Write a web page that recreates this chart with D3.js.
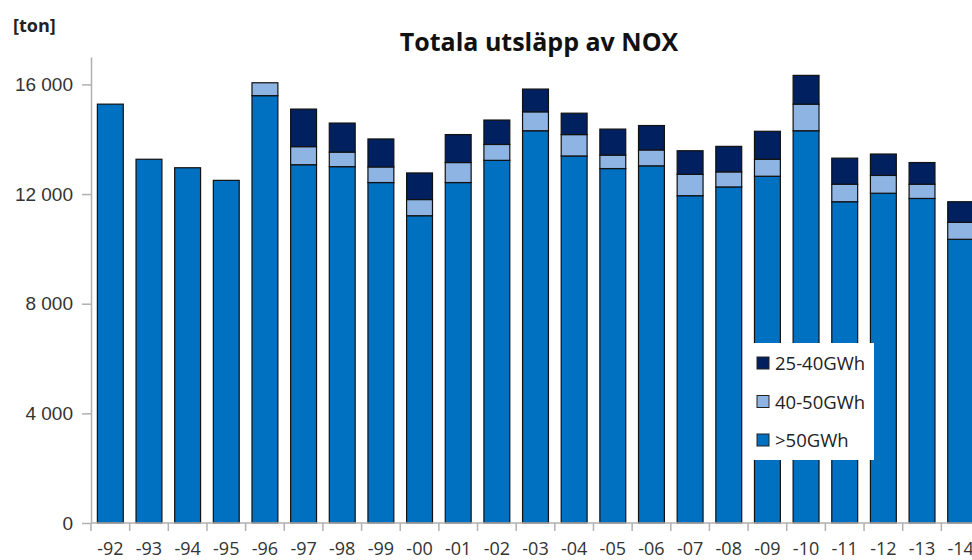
<!DOCTYPE html>
<html>
<head>
<meta charset="utf-8">
<script src="https://cdn.jsdelivr.net/npm/d3@7"></script>
<style>
  body { margin: 0; background: #fff; }
  svg { display: block; font-family: "Open Sans", sans-serif; }
  .axis text { fill: #333; font-size: 19px; }
</style>
</head>
<body>
<div id="chart"></div>
<script>
// years shown as short labels
const years = ['-92','-93','-94','-95','-96','-97','-98','-99','-00','-01','-02','-03',
  '-04','-05','-06','-07','-08','-09','-10','-11','-12','-13','-14'];

// tons per plant size class
const over50 = [15280, 13270, 12960, 12500, 15590, 13070, 13000, 12420, 11210, 12420, 13230, 14310,
  13390, 12930, 13030, 11940, 12260, 12650, 14310, 11720, 12030, 11840, 10350];
const from40to50 = [0, 0, 0, 0, 470, 660, 530, 570, 590, 730, 580, 690,
  780, 490, 580, 780, 550, 620, 970, 640, 650, 520, 620];
const from25to40 = [0, 0, 0, 0, 0, 1370, 1060, 1020, 970, 1020, 890, 830,
  780, 950, 890, 860, 930, 1020, 1050, 950, 780, 790, 750];

const seriesKeys = ['>50GWh', '40-50GWh', '25-40GWh'];
const seriesColors = ['#0070C0', '#8DB4E2', '#002060'];
const yTicks = [0, 4000, 8000, 12000, 16000];

const width = 972, height = 560;
const margin = {top: 57, left: 91, bottom: 37};
const plotRight = 980; // the original chart is cut at the right edge

const rows = years.map((y, i) => ({
  year: y,
  '>50GWh': over50[i],
  '40-50GWh': from40to50[i],
  '25-40GWh': from25to40[i]
}));

const stack = d3.stack().keys(seriesKeys)(rows);

const x = d3.scaleBand()
    .domain(years)
    .range([margin.left, plotRight])
    .paddingInner(0.33)
    .paddingOuter(0.165);

const y = d3.scaleLinear()
    .domain([0, 17000])
    .range([height - margin.bottom, margin.top]);

const svg = d3.select('#chart').append('svg')
    .attr('width', width)
    .attr('height', height);

// bars
svg.append('g')
  .selectAll('g')
  .data(stack)
  .join('g')
    .attr('fill', (d, i) => seriesColors[i])
  .selectAll('rect')
  .data(d => d.filter(s => s[1] - s[0] > 0))
  .join('rect')
    .attr('x', d => x(d.data.year))
    .attr('y', d => y(d[1]))
    .attr('width', x.bandwidth())
    .attr('height', d => y(d[0]) - y(d[1]))
    .attr('stroke', '#111')
    .attr('stroke-width', 1.2);

// y axis
const yAxisG = svg.append('g')
    .attr('class', 'axis')
    .attr('transform', `translate(${margin.left},0)`)
    .call(d3.axisLeft(y)
      .tickValues(yTicks)
      .tickSize(9)
      .tickPadding(9)
      .tickSizeOuter(0)
      .tickFormat(d => d3.format(',')(d).replace(/,/g, ' ')));
yAxisG.select('.domain').attr('stroke', '#b0b0b0').attr('stroke-width', 1.5);
yAxisG.selectAll('.tick line').attr('stroke', '#b0b0b0').attr('stroke-width', 1.5);

// x axis: ticks sit between the bars
const xAxisG = svg.append('g')
    .attr('class', 'axis')
    .attr('transform', `translate(0,${y(0)})`);
xAxisG.append('line')
    .attr('x1', margin.left).attr('x2', plotRight)
    .attr('stroke', '#b0b0b0').attr('stroke-width', 1.5);
const step = x.step();
const bounds = d3.range(years.length + 1).map(i => margin.left + i * step);
xAxisG.selectAll('.bound')
  .data(bounds)
  .join('line')
    .attr('x1', d => d).attr('x2', d => d)
    .attr('y1', 0).attr('y2', 8)
    .attr('stroke', '#b0b0b0').attr('stroke-width', 1.5);
xAxisG.selectAll('text')
  .data(years)
  .join('text')
    .attr('x', d => x(d) + x.bandwidth() / 2)
    .attr('y', 32)
    .attr('text-anchor', 'middle')
    .style('font-size', '18px')
    .text(d => d);

// title and unit
svg.append('text')
    .attr('x', 539)
    .attr('y', 51)
    .attr('text-anchor', 'middle')
    .attr('font-size', 25)
    .attr('font-weight', 'bold')
    .attr('fill', '#111')
    .text('Totala utsläpp av NOX');

svg.append('text')
    .attr('x', 13)
    .attr('y', 32)
    .attr('font-size', 18)
    .attr('font-weight', 'bold')
    .attr('fill', '#222')
    .text('[ton]');

// legend
const legend = svg.append('g').attr('transform', 'translate(753,343)');
legend.append('rect')
    .attr('width', 121).attr('height', 117)
    .attr('fill', '#fff');
const legendItems = seriesKeys.slice().reverse();
const legendColors = seriesColors.slice().reverse();
legendItems.forEach((k, i) => {
  const g = legend.append('g').attr('transform', `translate(4,${20 + i * 38.5})`);
  g.append('rect')
      .attr('x', 0).attr('y', -6)
      .attr('width', 12).attr('height', 12)
      .attr('fill', legendColors[i])
      .attr('stroke', '#222').attr('stroke-width', 1);
  g.append('text')
      .attr('x', 18).attr('y', 7)
      .attr('font-size', 18.5)
      .attr('fill', '#222')
      .text(k);
});
</script>
</body>
</html>
